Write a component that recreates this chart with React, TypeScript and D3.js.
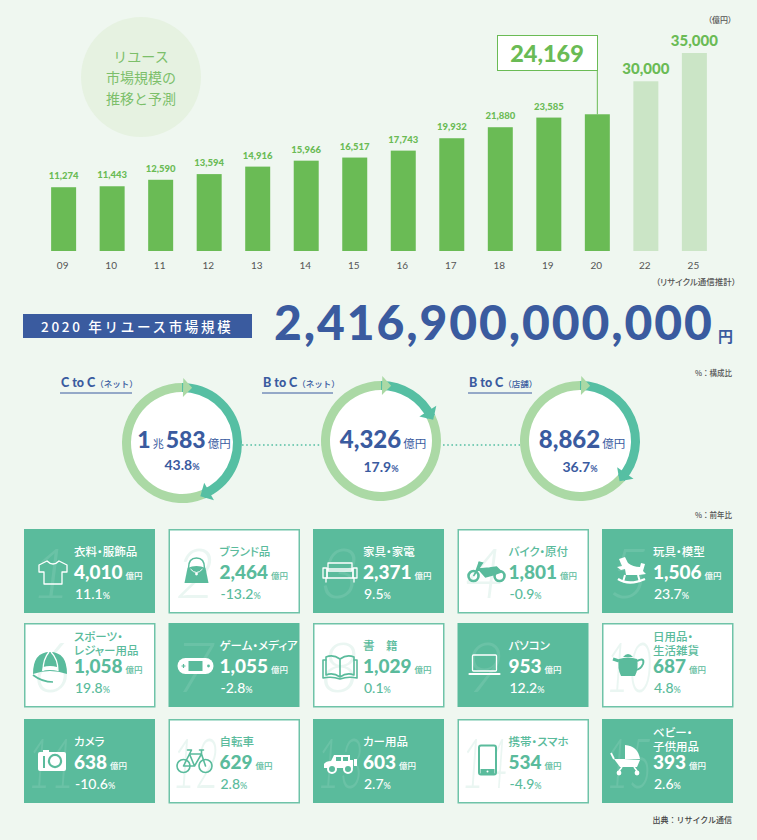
import React from "react";
import * as d3 from "d3";

const years = ["09", "10", "11", "12", "13", "14", "15", "16", "17", "18", "19", "20", "22", "25"];
const marketValues = [11274, 11443, 12590, 13594, 14916, 15966, 16517, 17743, 19932, 21880, 23585, 24169, 30000, 35000];

const ringLabels = ["C to C", "B to C", "B to C"];
const ringKinds = ["（ネット）", "（ネット）", "（店舗）"];
const ringShares = [43.8, 17.9, 36.7];
const ringAmounts = [["1", "兆", "583"], ["4,326"], ["8,862"]];

const cardNames = [
  ["衣料・服飾品"], ["ブランド品"], ["家具・家電"], ["バイク・原付"], ["玩具・模型"],
  ["スポーツ・", "レジャー用品"], ["ゲーム・メディア"], ["書　籍"], ["パソコン"], ["日用品・", "生活雑貨"],
  ["カメラ"], ["自転車"], ["カー用品"], ["携帯・スマホ"], ["ベビー・", "子供用品"],
];
const cardValues = [4010, 2464, 2371, 1801, 1506, 1058, 1055, 1029, 953, 687, 638, 629, 603, 534, 393];
const cardChanges = [11.1, -13.2, 9.5, -0.9, 23.7, 19.8, -2.8, 0.1, 12.2, 4.8, -10.6, 2.8, 2.7, -4.9, 2.6];

const BG = "#EFF7F0";
const GREEN = "#6ABB55";
const LIGHT = "#CBE5C6";
const TEAL = "#5ABB9C";
const RING = "#ABD9A5";
const RING_DARK = "#56BFA3";
const BLUE = "#3A5B9F";
const FONT = 'Lato, "Noto Sans CJK JP", sans-serif';
const JP = '"Noto Sans CJK JP", sans-serif';
const PALT = { fontFeatureSettings: '"palt"' };

const x = d3.scaleBand<string>().domain(years).range([39, 719]).paddingInner(0.485).paddingOuter(0.25);
const y = d3.scaleLinear().domain([0, 35000]).range([251, 53]);
const fmt = d3.format(",");

const ringX = d3.scalePoint<number>().domain([0, 1, 2]).range([182, 580]);
const ringY = [443, 441, 441];
const amountY = [5, 7, 7];
const shareY = [27, 31, 31];
const colX = d3.scalePoint<number>().domain([0, 1, 2, 3, 4]).range([24, 602]);
const rowY = [529, 623, 719];

function arrowHead(angle: number, r: number, len: number, w: number) {
  const px = r * Math.sin(angle);
  const py = -r * Math.cos(angle);
  const tx = Math.cos(angle);
  const ty = Math.sin(angle);
  const nx = Math.sin(angle);
  const ny = -Math.cos(angle);
  const p = d3.path();
  p.moveTo(px + tx * len, py + ty * len);
  p.lineTo(px + nx * w, py + ny * w);
  p.lineTo(px - nx * w, py - ny * w);
  p.closePath();
  return p.toString();
}

function Ring({ i }: { i: number }) {
  const share = ringShares[i];
  const pie = d3.pie<number>().sort(null)([share, 100 - share]);
  const arc = d3.arc<d3.PieArcDatum<number>>().innerRadius(51).outerRadius(60);
  const end = pie[0].endAngle;
  return (
    <g transform={`translate(${ringX(i)},${ringY[i]})`}>
      <circle r={55} fill="#fff" />
      <path d={arc(pie[1]) || ""} fill={RING} />
      <path d={arc(pie[0]) || ""} fill={RING_DARK} />
      <path d={arrowHead(end - 0.12, 55.5, 10, 10)} fill={RING_DARK} />
      <path d={arrowHead(0.02, 55.5, 9, 9.5)} fill={RING} />
      <text x={2} y={amountY[i]} textAnchor="middle" fill={BLUE} fontFamily={FONT}>
        {ringAmounts[i].map((t, k) =>
          k === 1 ? (
            <tspan key={k} fontSize={11} fontFamily={JP} dx={2}>{t}</tspan>
          ) : (
            <tspan key={k} fontSize={i === 0 ? 23 : 24} fontWeight={900} dx={k ? 2 : 0}>{t}</tspan>
          )
        )}
        <tspan fontSize={11.5} fontFamily={JP} dx={2}>億円</tspan>
      </text>
      <text y={shareY[i]} textAnchor="middle" fill={BLUE} fontFamily={FONT} fontSize={14} fontWeight={700}>
        {share.toFixed(1)}<tspan fontSize={9}>%</tspan>
      </text>
    </g>
  );
}

function Icon({ i, c, b }: { i: number; c: string; b: string }) {
  const line = { fill: "none", stroke: c, strokeWidth: 1.3, strokeLinejoin: "round" as const, strokeLinecap: "round" as const };
  switch (i) {
    case 0:
      return <g transform="translate(29,43)"><path d="M-6,-11 L-14,-7 L-14,0 L-9,0 L-9,12 L9,12 L9,0 L14,0 L14,-7 L6,-11 Q0,-5 -6,-11 Z" {...line} /></g>;
    case 1:
      return <g transform="translate(28,42)"><path d="M-12,12 L-9,-3 Q0,-7 9,-3 L12,12 Z" fill={c} /><path d="M-8,-3 Q-8,-13 0,-13 Q8,-13 8,-3" fill="none" stroke={c} strokeWidth={1.5} /><path d="M-6,-2 Q0,5 6,-2" fill="none" stroke={b} strokeWidth={1} /><circle cy={3} r={1.4} fill={b} /></g>;
    case 2:
      return <g transform="translate(27,43)"><rect x={-12} y={-9} width={24} height={8} {...line} /><rect x={-13} y={-3} width={26} height={9} {...line} /><rect x={-17} y={-4} width={4} height={10} {...line} /><rect x={13} y={-4} width={4} height={10} {...line} /><path d="M-14,6 V10 M14,6 V10" {...line} /></g>;
    case 3:
      return <g transform="translate(29,43)"><circle cx={-13} cy={4} r={5} fill="none" stroke={c} strokeWidth={2.6} /><circle cx={13} cy={4} r={5} fill="none" stroke={c} strokeWidth={2.6} /><path d="M-13,4 L-4,-9 L-8,-10 M-8,-3 L3,-4 L10,-5 L15,0 L6,3 L-1,5 Z" fill={c} stroke={c} strokeWidth={1.4} /></g>;
    case 4:
      return <g transform="translate(29,42)"><path d="M-12,-12 L-6,-14 L-3,-8 Q2,-4 9,-4 L10,-8 L14,-7 L12,0 L15,3 L8,4 L-5,4 L-6,-2 L-10,-1 L-14,-4 L-9,-5 Z" fill={c} /><path d="M-13,8 Q-2,15 14,8" fill="none" stroke={c} strokeWidth={2.4} /><path d="M-6,4 L-8,11 M7,4 L9,11" stroke={c} strokeWidth={2} /></g>;
    case 5:
      return <g transform="translate(26,44)"><path d="M-17,7 Q-17,-15 0,-15 Q17,-15 17,7 Q0,1 -17,7 Z" fill={c} /><path d="M-7,4 Q-7,-8 -1,-15 M8,4 Q8,-8 1,-15" fill="none" stroke={b} strokeWidth={1.3} /><path d="M-8,4 Q0,2 8,4 L7,0 Q0,-2 -7,0 Z" fill={b} /><path d="M-17,8 Q-8,15 3,15" fill="none" stroke={c} strokeWidth={1.6} /></g>;
    case 6:
      return <g transform="translate(27,43)"><rect x={-18} y={-8} width={36} height={16} rx={8} fill={c} /><rect x={-7} y={-5} width={14} height={10} fill={b} /><path d="M-14,0 H-10 M-12,-2 V2" stroke={b} strokeWidth={1.2} /><circle cx={13} r={1.4} fill={b} /></g>;
    case 7:
      return <g transform="translate(27,43)"><path d="M0,-7 Q-7,-12 -14,-9 V9 Q-7,6 0,11 Q7,6 14,9 V-9 Q7,-12 0,-7 V11" {...line} strokeWidth={1.6} /><path d="M-14,-6 H-17 V12 Q-8,10 0,13 Q8,10 17,12 V-6 H14" {...line} strokeWidth={1.6} /></g>;
    case 8:
      return <g transform="translate(27,42)"><rect x={-12} y={-10} width={24} height={16} rx={1} {...line} /><path d="M-15,9 H15" stroke={c} strokeWidth={2.2} strokeLinecap="round" /></g>;
    case 9:
      return <g transform="translate(26,42)"><path d="M-9,-6 Q0,-9 9,-6 Q11,3 7,11 H-7 Q-11,3 -9,-6 Z" fill={c} /><path d="M-5,-8 Q0,-14 5,-8 Z" fill={c} /><path d="M9,-4 Q17,-8 15,-1 Q13,4 8,5" fill="none" stroke={c} strokeWidth={2} /><path d="M-9,-4 L-15,-6" stroke={c} strokeWidth={3} /></g>;
    case 10:
      return <g transform="translate(28,42)"><rect x={-14} y={-9} width={28} height={19} rx={2} fill={c} /><path d="M-9,-9 V-11 H-3 V-9 Z" fill={c} /><circle cx={3} cy={0} r={7.2} fill={b} /><circle cx={3} cy={0} r={5} fill={c} /><rect x={-9} y={-5} width={2} height={12} fill={b} /></g>;
    case 11:
      return <g transform="translate(26,41)"><circle cx={-11} cy={6} r={6.5} {...line} strokeWidth={1.6} /><circle cx={11} cy={6} r={6.5} {...line} strokeWidth={1.6} /><path d="M-11,6 L-5,-6 L7,-6 L11,6 M-5,-6 L0,6 L7,-6 M-11,6 H0 M-7,-10 H-3 L-5,-6 M5,-10 H9 M7,-10 L7,-6" {...line} strokeWidth={1.6} /></g>;
    case 12:
      return <g transform="translate(27,45)"><path d="M-16,0 Q-14,-3 -9,-3 L-6,-9 H10 V-4 H13 V4 H-16 Z" fill={c} /><rect x={-4} y={-7} width={5} height={4} fill={b} /><rect x={3} y={-7} width={5} height={4} fill={b} /><rect x={14} y={-5} width={3} height={7} fill={c} /><circle cx={-8} cy={5} r={4} fill={b} stroke={c} strokeWidth={2} /><circle cx={8} cy={5} r={4} fill={b} stroke={c} strokeWidth={2} /></g>;
    case 13:
      return <g transform="translate(30,41)"><rect x={-8.5} y={-14.5} width={17} height={29} rx={2} fill={b} stroke={c} strokeWidth={2} /><rect x={-7} y={9} width={14} height={5} fill={c} /><circle cy={11.5} r={1} fill={b} /></g>;
    default:
      return <g transform="translate(26,41)"><path d="M-3,-15 Q10,-14 12,-1 H-3 Z" fill={c} /><path d="M-4,-1 H-14 L-8,7 H9 L12,0 Z" fill={c} /><path d="M-14,-1 L-17,-7" stroke={c} strokeWidth={1.8} /><path d="M-6,7 L-9,11 M6,7 L9,11" stroke={c} strokeWidth={1.6} /><circle cx={-9} cy={13} r={2.4} fill={c} /><circle cx={9} cy={13} r={2.4} fill={c} /></g>;
  }
}

function Card({ i }: { i: number }) {
  const col = i % 5;
  const row = Math.floor(i / 5);
  const filled = i % 2 === 0;
  const fg = filled ? "#fff" : TEAL;
  const bx = colX(col) ?? 0;
  const by = rowY[row];
  const tx = col === 0 || col === 2 ? 50 : 51;
  const names = cardNames[i];
  return (
    <g transform={`translate(${bx},${by})`}>
      {filled ? (
        <rect width={131} height={84} fill={TEAL} />
      ) : (
        <rect x={0.75} y={0.75} width={130} height={83} fill="#fff" stroke="#6FC3A8" strokeWidth={1.5} />
      )}
      <text transform={`translate(27,69) scale(${i >= 9 ? 0.58 : 1},1)`} textAnchor="middle" fontFamily={FONT} fontSize={70} fontWeight={300} fontStyle="italic"
        fill={filled ? "#fff" : TEAL} fillOpacity={filled ? 0.1 : 0.13}>{i + 1}</text>
      <Icon i={i} c={fg} b={filled ? TEAL : "#fff"} />
      <g fill={fg}>
        <text y={names.length === 2 ? 18 : 27} fontFamily={JP} fontSize={11.5} fontWeight={500} style={PALT}>
          {names.map((n, k) => (
            <tspan key={k} x={tx} dy={k ? 13.5 : 0}>{n}</tspan>
          ))}
        </text>
        <text x={tx} y={50} fontFamily={FONT}>
          <tspan fontSize={19} fontWeight={900}>{fmt(cardValues[i])}</tspan>
          <tspan fontSize={8.5} fontFamily={JP} fontWeight={500} dx={3}>億円</tspan>
        </text>
        <text x={tx + 1} y={70} fontFamily={FONT} fontSize={14} fontWeight={500}>
          {cardChanges[i].toFixed(1)}<tspan fontSize={9}>%</tspan>
        </text>
      </g>
    </g>
  );
}

export default function App() {
  const axisRef = React.useRef<SVGGElement | null>(null);

  React.useEffect(() => {
    if (!axisRef.current) return;
    const g = d3.select(axisRef.current);
    g.call(d3.axisBottom(x).tickSize(0).tickPadding(11) as any);
    g.select(".domain").remove();
    g.selectAll("text").attr("fill", "#555").attr("font-size", 10).attr("font-family", FONT);
  }, []);

  const topIdx = years.indexOf("20");
  const topCx = (x("20") ?? 0) + x.bandwidth() / 2;

  return (
    <svg width={757} height={840} style={{ position: "absolute", left: 0, top: 0, display: "block" }}>
      <rect width={757} height={840} fill={BG} />

      <circle cx={141} cy={77} r={60} fill="#E6F2E1" />
      {["リユース", "市場規模の", "推移と予測"].map((t, k) => (
        <text key={k} x={141} y={62 + k * 21} textAnchor="middle" fontFamily={JP} fontSize={14} fill="#7CBF6A">{t}</text>
      ))}

      <text x={732} y={23} textAnchor="end" fontFamily={JP} fontSize={8} fontWeight={500} fill="#555" style={PALT}>（億円）</text>

      <g>
        {years.map((yr, i) => (
          <rect key={yr} x={x(yr)} y={y(marketValues[i])} width={x.bandwidth()} height={y(0) - y(marketValues[i])}
            fill={i > topIdx ? LIGHT : GREEN} />
        ))}
        {years.map((yr, i) =>
          i === topIdx ? null : (
            <text key={yr} x={(x(yr) ?? 0) + x.bandwidth() / 2} y={y(marketValues[i]) - (i > topIdx ? 7 : 8)} textAnchor="middle"
              fontFamily={FONT} fontWeight={900} fontSize={i > topIdx ? 15 : 9.5} fill={GREEN}>
              {fmt(marketValues[i])}
            </text>
          )
        )}
      </g>
      <line x1={topCx} x2={topCx} y1={71} y2={y(marketValues[topIdx])} stroke={GREEN} strokeWidth={1} />
      <rect x={497.5} y={35.5} width={100} height={35} fill="#fff" stroke={GREEN} strokeWidth={1} />
      <text x={547} y={62} textAnchor="middle" fontFamily={FONT} fontWeight={900} fontSize={23.5} fill={GREEN}>
        {fmt(marketValues[topIdx])}
      </text>
      <g ref={axisRef} transform={`translate(-1,${y(0)})`} />
      <text x={736} y={285} textAnchor="end" fontFamily={JP} fontSize={8.5} fontWeight={500} fill="#555" style={PALT}>（リサイクル通信推計）</text>

      <rect x={23} y={314} width={229} height={24} fill={BLUE} />
      <text x={41} y={332} fontFamily={JP} fontSize={13.5} fontWeight={500} fill="#fff" letterSpacing={2.7}>2020 年リユース市場規模</text>
      <text x={274} y={340} fontFamily={FONT} fontSize={48} fontWeight={900} fill={BLUE} letterSpacing={1.9}>2,416,900,000,000</text>
      <text x={718} y={342} fontFamily={JP} fontSize={15} fontWeight={700} fill={BLUE}>円</text>

      <text x={732} y={376} textAnchor="end" fontFamily={JP} fontSize={7.5} fontWeight={500} fill="#555">%：構成比</text>
      <text x={732} y={518} textAnchor="end" fontFamily={JP} fontSize={7.5} fontWeight={500} fill="#555">%：前年比</text>

      <line x1={242} x2={322} y1={445} y2={445} stroke={RING_DARK} strokeWidth={1.6} strokeDasharray="1.6 2.6" />
      <line x1={443} x2={520} y1={445} y2={445} stroke={RING_DARK} strokeWidth={1.6} strokeDasharray="1.6 2.6" />

      {ringLabels.map((l, i) => {
        const lx = [61, 263, 469][i];
        const w = [72, 71, 64][i];
        return (
          <g key={i}>
            <text x={lx} y={387} fill={BLUE} fontFamily={FONT} fontSize={12.5} fontWeight={900}>
              {l}<tspan fontFamily={JP} fontSize={8.5} fontWeight={500}>{ringKinds[i]}</tspan>
            </text>
            <line x1={lx - 1} x2={lx - 1 + w} y1={393} y2={393} stroke={BLUE} strokeWidth={1} />
          </g>
        );
      })}
      {ringShares.map((_, i) => <Ring key={i} i={i} />)}

      {cardValues.map((_, i) => <Card key={i} i={i} />)}

      <text x={732} y={823} textAnchor="end" fontFamily={JP} fontSize={8} fontWeight={500} fill="#444">出典：リサイクル通信</text>
    </svg>
  );
}
